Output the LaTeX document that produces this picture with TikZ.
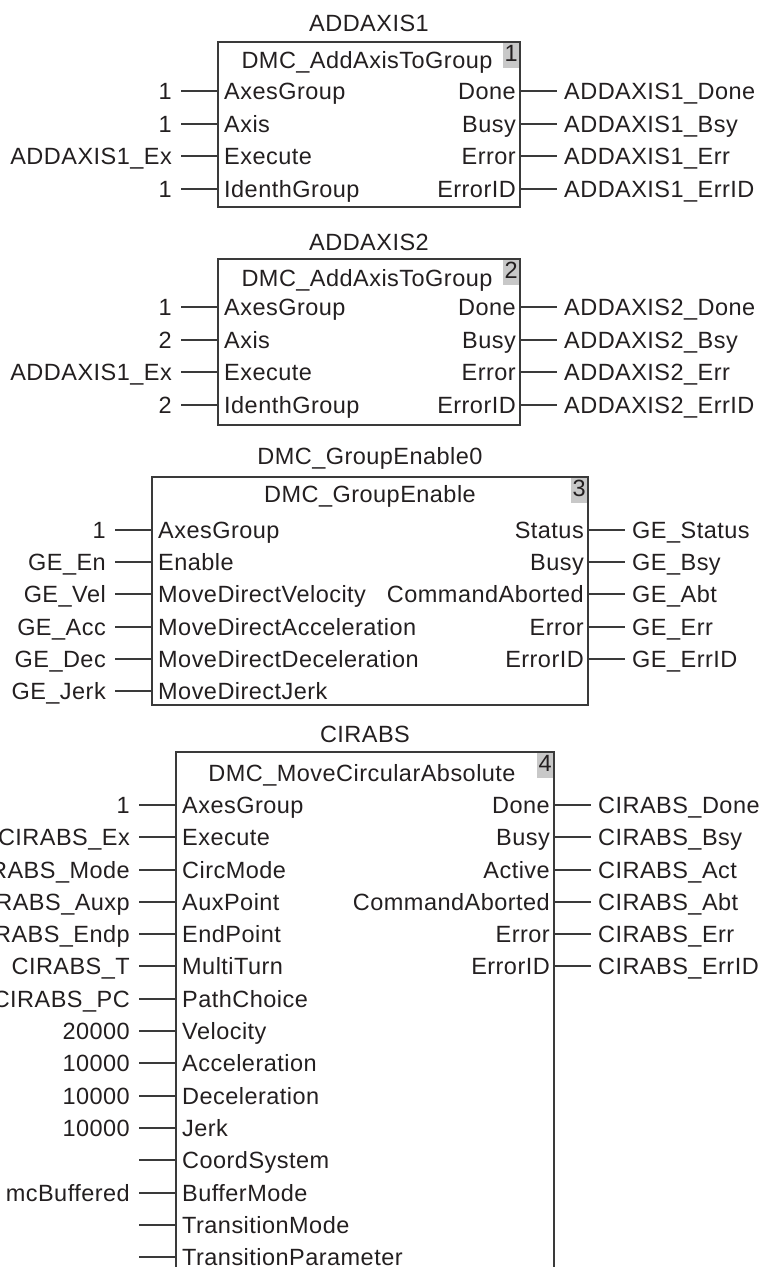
\documentclass[tikz,border=0pt]{standalone}
\usepackage{fontspec}
\setmainfont[LetterSpace=2]{Liberation Sans}
\usetikzlibrary{positioning}
\definecolor{FbText}{HTML}{231F20}
\definecolor{FbLine}{HTML}{3A3A3A}
\definecolor{FbTag}{HTML}{C8C8C8}
% #1 box edge x, #2 row y, #3 pin, #4 variable, #5 name
\newcommand{\inpin}[5]{%
  \node[pinin] (#5) at (#1,#2) {#3};
  \node[valin] (#5v) at (#1-37,#2) {#4};
  \draw[wire] (#5v.east) -- (#5.west);}
\newcommand{\outpin}[5]{%
  \node[pinout] (#5) at (#1,#2) {#3};
  \node[valout] (#5v) at (#1+37,#2) {#4};
  \draw[wire] (#5.east) -- (#5v.west);}

\begin{document}
\begin{tikzpicture}[
  x=1pt,y=-1pt,
  font=\fontsize{23.5}{28}\selectfont,
  text=FbText,
  fbox/.style={
    draw=FbLine,
    line width=1.3pt,
    inner sep=0pt,
    outer sep=0pt
  },
  wire/.style={
    draw=FbLine,
    line width=1.2pt
  },
  txt/.style={
    inner sep=0pt,
    text height=16.8pt,
    text depth=0pt
  },
  fbtitle/.style={txt},
  fbhead/.style={txt},
  fbtag/.style={
    txt,
    anchor=north east,
    fill=FbTag,
    inner xsep=1.5pt,
    inner ysep=2pt,
    text depth=4.2pt
  },
  pinin/.style={txt, anchor=west, inner xsep=6pt},
  pinout/.style={txt, anchor=east, inner xsep=4pt},
  valin/.style={txt, anchor=east, inner xsep=9pt},
  valout/.style={txt, anchor=west, inner xsep=7pt}
]
\useasboundingbox (0,0) rectangle (762,1267);
\clip (0,0) rectangle (762,1267);

% -------------------------------------------------
% ADDAXIS1
% -------------------------------------------------
\node[fbox, minimum width=302pt, minimum height=165pt] (b1) at (369,124.5) {};
\node[fbtitle] (t1) at (369,23) {ADDAXIS1};
\node[fbhead] (h1) at (367,60) {DMC\_AddAxisToGroup};
\node[fbtag] (g1) at ([shift={(-0.65pt,-0.65pt)}]b1.north east) {1};

\inpin{218}{91}{AxesGroup}{1}{a1in1}
\inpin{218}{124}{Axis}{1}{a1in2}
\inpin{218}{156}{Execute}{ADDAXIS1\_Ex}{a1in3}
\inpin{218}{189}{IdenthGroup}{1}{a1in4}
\outpin{520}{91}{Done}{ADDAXIS1\_Done}{a1out1}
\outpin{520}{124}{Busy}{ADDAXIS1\_Bsy}{a1out2}
\outpin{520}{156}{Error}{ADDAXIS1\_Err}{a1out3}
\outpin{520}{189}{ErrorID}{ADDAXIS1\_ErrID}{a1out4}

% -------------------------------------------------
% ADDAXIS2
% -------------------------------------------------
\node[fbox, minimum width=302pt, minimum height=166pt] (b2) at (369,342) {};
\node[fbtitle] (t2) at (369,242) {ADDAXIS2};
\node[fbhead] (h2) at (367,278) {DMC\_AddAxisToGroup};
\node[fbtag] (g2) at ([shift={(-0.65pt,-0.65pt)}]b2.north east) {2};

\inpin{218}{307}{AxesGroup}{1}{a2in1}
\inpin{218}{340}{Axis}{2}{a2in2}
\inpin{218}{372}{Execute}{ADDAXIS1\_Ex}{a2in3}
\inpin{218}{405}{IdenthGroup}{2}{a2in4}
\outpin{520}{307}{Done}{ADDAXIS2\_Done}{a2out1}
\outpin{520}{340}{Busy}{ADDAXIS2\_Bsy}{a2out2}
\outpin{520}{372}{Error}{ADDAXIS2\_Err}{a2out3}
\outpin{520}{405}{ErrorID}{ADDAXIS2\_ErrID}{a2out4}

% -------------------------------------------------
% DMC_GroupEnable0
% -------------------------------------------------
\node[fbox, minimum width=436pt, minimum height=228pt] (b3) at (370,591) {};
\node[fbtitle] (t3) at (370,456) {DMC\_GroupEnable0};
\node[fbhead] (h3) at (370,494) {DMC\_GroupEnable};
\node[fbtag] (g3) at ([shift={(-0.65pt,-0.65pt)}]b3.north east) {3};

\inpin{152}{530}{AxesGroup}{1}{geIn1}
\inpin{152}{562}{Enable}{GE\_En}{geIn2}
\inpin{152}{594}{MoveDirectVelocity}{GE\_Vel}{geIn3}
\inpin{152}{627}{MoveDirectAcceleration}{GE\_Acc}{geIn4}
\inpin{152}{659}{MoveDirectDeceleration}{GE\_Dec}{geIn5}
\inpin{152}{691}{MoveDirectJerk}{GE\_Jerk}{geIn6}
\outpin{588}{530}{Status}{GE\_Status}{geOut1}
\outpin{588}{562}{Busy}{GE\_Bsy}{geOut2}
\outpin{588}{594}{CommandAborted}{GE\_Abt}{geOut3}
\outpin{588}{627}{Error}{GE\_Err}{geOut4}
\outpin{588}{659}{ErrorID}{GE\_ErrID}{geOut5}

% -------------------------------------------------
% CIRABS
% -------------------------------------------------
\node[fbox, minimum width=378pt, minimum height=538pt] (b4) at (365,1021) {};
\node[fbtitle] (t4) at (365,734) {CIRABS};
\node[fbhead] (h4) at (362,773) {DMC\_MoveCircularAbsolute};
\node[fbtag] (g4) at ([shift={(-0.65pt,-0.65pt)}]b4.north east) {4};

\inpin{176}{805}{AxesGroup}{1}{caIn1}
\inpin{176}{837}{Execute}{CIRABS\_Ex}{caIn2}
\inpin{176}{870}{CircMode}{CIRABS\_Mode}{caIn3}
\inpin{176}{902}{AuxPoint}{CIRABS\_Auxp}{caIn4}
\inpin{176}{934}{EndPoint}{CIRABS\_Endp}{caIn5}
\inpin{176}{966}{MultiTurn}{CIRABS\_T}{caIn6}
\inpin{176}{999}{PathChoice}{CIRABS\_PC}{caIn7}
\inpin{176}{1031}{Velocity}{20000}{caIn8}
\inpin{176}{1063}{Acceleration}{10000}{caIn9}
\inpin{176}{1096}{Deceleration}{10000}{caIn10}
\inpin{176}{1128}{Jerk}{10000}{caIn11}
\inpin{176}{1160}{CoordSystem}{}{caIn12}
\inpin{176}{1193}{BufferMode}{mcBuffered}{caIn13}
\inpin{176}{1225}{TransitionMode}{}{caIn14}
\inpin{176}{1257}{TransitionParameter}{}{caIn15}
\outpin{554}{805}{Done}{CIRABS\_Done}{caOut1}
\outpin{554}{837}{Busy}{CIRABS\_Bsy}{caOut2}
\outpin{554}{870}{Active}{CIRABS\_Act}{caOut3}
\outpin{554}{902}{CommandAborted}{CIRABS\_Abt}{caOut4}
\outpin{554}{934}{Error}{CIRABS\_Err}{caOut5}
\outpin{554}{966}{ErrorID}{CIRABS\_ErrID}{caOut6}

\end{tikzpicture}
\end{document}
